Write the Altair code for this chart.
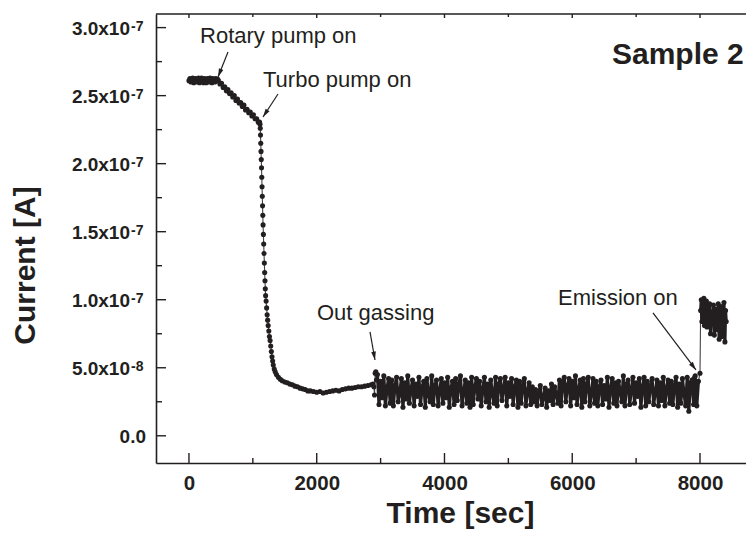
import altair as alt
import pandas as pd

FONT = "Liberation Sans"
INK = "#231f20"

# ---- data: time [s], current [nA] ----
flat_t = [0, 15, 30, 45, 60, 75, 90, 105, 120, 135, 150, 165, 180, 195, 210, 225,
          240, 255, 270, 285, 300, 315, 330, 345, 360, 375, 390, 405, 420, 435, 450]
flat_nA = [261, 262.5, 260, 261.5, 263, 259.5, 261, 262.5, 260, 261, 263, 259.5, 261, 263, 261, 259.5,
           262.5, 261, 259.5, 262.5, 261, 260, 263, 261, 259.5, 262.5, 261, 260, 262.5, 261, 262]

decl_t = [460, 485, 510, 535, 560, 585, 610, 635, 660, 685, 710, 735, 760, 785, 810,
          835, 860, 885, 910, 935, 960, 985, 1010, 1035, 1060, 1085, 1105]
decl_nA = [261, 258.5, 259, 256, 256.5, 253.5, 254.5, 251.5, 252, 249, 250, 246.5, 247.5,
           244.5, 245, 242, 243, 239.5, 240, 237.5, 238, 235, 236, 233, 233, 230.5, 230.5]

drop_t = [1112, 1116, 1120, 1124, 1128, 1132, 1136, 1140, 1144, 1148, 1152, 1156, 1160,
          1165, 1170, 1175, 1180, 1185, 1190, 1195, 1200, 1208, 1216, 1224, 1232, 1240,
          1250, 1260, 1270, 1280, 1290, 1300, 1310, 1320, 1335, 1350, 1370, 1400, 1430,
          1460, 1500, 1540, 1580, 1620, 1660, 1700, 1740, 1780, 1820, 1860, 1900, 1950,
          2000, 2050, 2100, 2150, 2200, 2250, 2300, 2350, 2400, 2450, 2500, 2550, 2600,
          2650, 2700, 2750, 2800, 2850, 2880, 2895, 2905, 2915, 2925, 2935]
drop_nA = [229, 226, 221, 215, 209, 203, 197, 190, 183, 176, 169, 162, 155,
           148, 141, 134, 127, 120, 114, 108, 103, 99, 94, 89, 85, 81,
           77, 73, 70, 66, 62, 58, 55, 52, 49, 47, 45, 43, 41.5,
           40.5, 39.5, 39, 38, 37.5, 36.5, 36, 35, 34.5, 34, 33, 33, 32.5,
           32, 32.5, 31.5, 32, 32.5, 33, 33.5, 33, 34, 34.5, 35, 35, 35.5,
           36, 36, 36.5, 37, 37.5, 38, 36, 30, 46, 47, 41]

noise_t = [2950, 2975, 3000, 3025, 3050, 3075, 3100, 3125, 3150, 3175,
           3200, 3225, 3250, 3275, 3300, 3325, 3350, 3375, 3400, 3425,
           3450, 3475, 3500, 3525, 3550, 3575, 3600, 3625, 3650, 3675,
           3700, 3725, 3750, 3775, 3800, 3825, 3850, 3875, 3900, 3925,
           3950, 3975, 4000, 4025, 4050, 4075, 4100, 4125, 4150, 4175,
           4200, 4225, 4250, 4275, 4300, 4325, 4350, 4375, 4400, 4425,
           4450, 4475, 4500, 4525, 4550, 4575, 4600, 4625, 4650, 4675,
           4700, 4725, 4750, 4775, 4800, 4825, 4850, 4875, 4900, 4925,
           4950, 4975, 5000, 5025, 5050, 5075, 5100, 5125, 5150, 5175,
           5200, 5225, 5250, 5275, 5300, 5325, 5350, 5375, 5400, 5425,
           5450, 5475, 5500, 5525, 5550, 5575, 5600, 5625, 5650, 5675,
           5700, 5725, 5750, 5775, 5800, 5825, 5850, 5875, 5900, 5925,
           5950, 5975, 6000, 6025, 6050, 6075, 6100, 6125, 6150, 6175,
           6200, 6225, 6250, 6275, 6300, 6325, 6350, 6375, 6400, 6425,
           6450, 6475, 6500, 6525, 6550, 6575, 6600, 6625, 6650, 6675,
           6700, 6725, 6750, 6775, 6800, 6825, 6850, 6875, 6900, 6925,
           6950, 6975, 7000, 7025, 7050, 7075, 7100, 7125, 7150, 7175,
           7200, 7225, 7250, 7275, 7300, 7325, 7350, 7375, 7400, 7425,
           7450, 7475, 7500, 7525, 7550, 7575, 7600, 7625, 7650, 7675,
           7700, 7725, 7750, 7775, 7800, 7825, 7850, 7875, 7900, 7925,
           7950, 7975]
noise_nA = [45, 23, 40, 28, 44, 22, 35, 42, 24, 41,
            22, 37, 43, 25, 31, 42, 21, 39, 27, 44,
            24, 34, 41, 22, 38, 29, 43, 23, 36, 40,
            21, 42, 30, 25, 44, 23, 37, 41, 22, 33,
            42, 24, 39, 28, 43, 21, 35, 40, 23, 42,
            26, 38, 44, 22, 32, 41, 24, 39, 21, 43,
            23, 36, 42, 27, 40, 22, 34, 43, 25, 38,
            21, 41, 31, 24, 43, 22, 38, 42, 26, 35,
            43, 22, 39, 29, 42, 23, 36, 41, 21, 40,
            24, 37, 42, 22, 33, 39, 23, 36, 25, 34,
            22, 31, 37, 23, 28, 35, 21, 33, 26, 38,
            23, 36, 30, 24, 41, 22, 39, 43, 25, 37,
            42, 22, 40, 28, 44, 23, 34, 41, 21, 42,
            25, 38, 43, 22, 31, 42, 24, 40, 22, 36,
            41, 23, 37, 27, 43, 21, 35, 42, 24, 39,
            22, 40, 33, 25, 44, 22, 38, 41, 23, 34,
            43, 24, 39, 29, 42, 21, 36, 43, 22, 40,
            25, 37, 42, 23, 32, 41, 22, 39, 26, 43,
            22, 35, 41, 24, 40, 23, 37, 43, 21, 38,
            24, 42, 31, 22, 43, 18, 39, 41, 23, 44,
            22, 40]

jump_t = [8000]
jump_nA = [46]

emis_t = [8010, 8020, 8030, 8040, 8050, 8060, 8070, 8080, 8090, 8100, 8110, 8120,
          8135, 8150, 8165, 8180, 8195, 8210, 8225, 8240, 8255, 8270, 8285, 8300,
          8315, 8330, 8345, 8360, 8375, 8390, 8400, 8410]
emis_nA = [92, 100, 84, 98, 88, 101, 81, 95, 90, 99, 80, 94,
           86, 97, 75, 91, 83, 96, 74, 88, 93, 78, 97, 71,
           90, 95, 73, 86, 98, 69, 92, 84]

# ---- axes / ticks ----
x_major = [0, 2000, 4000, 6000, 8000]
x_minor = [1000, 3000, 5000, 7000]
y_major = [5e-8, 1e-7, 1.5e-7, 2e-7, 2.5e-7, 3e-7]
y_mant = ["5.0x10", "1.0x10", "1.5x10", "2.0x10", "2.5x10", "3.0x10"]
y_exp = ["-8", "-7", "-7", "-7", "-7", "-7"]
y_zero = [0.0]
y_zero_label = ["0.0"]
y_minor = [2.5e-8, 7.5e-8, 1.25e-7, 1.75e-7, 2.25e-7, 2.75e-7]

# ---- annotations (time, current) ----
ann_text = ["Rotary pump on", "Turbo pump on", "Out gassing", "Emission on"]
ann_t = [173, 1159, 2004, 5777]
ann_I = [2.887e-7, 2.563e-7, 0.851e-7, 0.961e-7]

arr_t0 = [611, 1394, 2834, 7264]
arr_I0 = [2.821e-7, 2.512e-7, 0.763e-7, 0.903e-7]
arr_t1 = [455, 1159, 2912, 7937]
arr_I1 = [2.637e-7, 2.343e-7, 0.557e-7, 0.484e-7]
arr_angle = [201.8, 213.1, 169.9, 143.0]

W, H = 590, 449
xs = alt.Scale(domain=[-516, 8720], nice=False, zero=False)
ys = alt.Scale(domain=[-2e-8, 3.1e-7], nice=False, zero=False)

def frame(ts, vals):
    return pd.DataFrame({"t": ts, "I": [v * 1e-9 for v in vals]})

curve = frame(flat_t + decl_t + drop_t + noise_t + jump_t + emis_t,
              flat_nA + decl_nA + drop_nA + noise_nA + jump_nA + emis_nA)
curve["o"] = range(len(curve))
noise_df = frame(noise_t, noise_nA)
emis_df = frame(emis_t, emis_nA)

x_axis = alt.Axis(values=x_major, format="d", ticks=False, tickSize=0, grid=False,
                  domainColor=INK, domainWidth=1.6, labelFont=FONT, labelFontSize=20.5,
                  labelFontWeight="bold", labelColor=INK, labelPadding=10,
                  title="Time [sec]", titleFont=FONT, titleFontSize=30, titleFontWeight="bold",
                  titleColor=INK, titleX=304, titleY=59, titleAlign="center",
                  titleBaseline="alphabetic")
y_axis = alt.Axis(values=y_major, labels=False, ticks=False, tickSize=0, grid=False,
                  domainColor=INK, domainWidth=1.6,
                  title="Current [A]", titleFont=FONT, titleFontSize=30, titleFontWeight="bold",
                  titleColor=INK, titleX=-122, titleY=251, titleAngle=270, titleAlign="center",
                  titleBaseline="alphabetic")

base = alt.Chart(curve)
line = base.mark_line(color="#444444", strokeWidth=1.1).encode(
    x=alt.X("t:Q", scale=xs, axis=x_axis),
    y=alt.Y("I:Q", scale=ys, axis=y_axis),
    order="o:Q",
)
pts = base.mark_circle(color=INK, size=26, opacity=1).encode(
    x=alt.X("t:Q", scale=xs), y=alt.Y("I:Q", scale=ys))

noise_line = alt.Chart(noise_df).mark_line(color=INK, strokeWidth=3.2).encode(
    x=alt.X("t:Q", scale=xs), y=alt.Y("I:Q", scale=ys))
emis_line = alt.Chart(emis_df).mark_line(color=INK, strokeWidth=3.2).encode(
    x=alt.X("t:Q", scale=xs), y=alt.Y("I:Q", scale=ys))

one = pd.DataFrame({"k": [0]})
top_line = alt.Chart(one).mark_rule(color=INK, strokeWidth=1.6).encode(
    x=alt.value(0), x2=alt.value(W), y=alt.value(0))

xmaj = pd.DataFrame({"t": x_major})
xmin = pd.DataFrame({"t": x_minor})
ymaj = pd.DataFrame({"I": y_zero + y_major})
ymin = pd.DataFrame({"I": y_minor})

def xt(df, y0, y1):
    return alt.Chart(df).mark_rule(color=INK, strokeWidth=1.4).encode(
        x=alt.X("t:Q", scale=xs), y=alt.value(y0), y2=alt.value(y1))

def yt(df, length):
    return alt.Chart(df).mark_rule(color=INK, strokeWidth=1.4).encode(
        y=alt.Y("I:Q", scale=ys), x=alt.value(0), x2=alt.value(length))

ticks = [xt(xmaj, H, H - 10), xt(xmin, H, H - 5), xt(xmaj, 0, 4), xt(xmin, 0, 3),
         yt(ymaj, 10), yt(ymin, 6)]

# y tick labels with superscript exponents
ylab = pd.DataFrame({"I": y_major, "m": y_mant, "e": y_exp})
ylab_m = alt.Chart(ylab).mark_text(align="right", baseline="alphabetic", dy=7, font=FONT,
                                   fontSize=19, fontWeight="bold", color=INK).encode(
    y=alt.Y("I:Q", scale=ys), x=alt.value(-26), text="m:N")
ylab_e = alt.Chart(ylab).mark_text(align="left", baseline="alphabetic", dy=3, font=FONT,
                                   fontSize=14, fontWeight="bold", color=INK).encode(
    y=alt.Y("I:Q", scale=ys), x=alt.value(-25), text="e:N")
yzero = pd.DataFrame({"I": y_zero, "m": y_zero_label})
ylab_0 = alt.Chart(yzero).mark_text(align="right", baseline="alphabetic", dy=7, font=FONT,
                                    fontSize=19, fontWeight="bold", color=INK).encode(
    y=alt.Y("I:Q", scale=ys), x=alt.value(-10), text="m:N")

ann = pd.DataFrame({"text": ann_text, "t": ann_t, "I": ann_I})
ann_layer = alt.Chart(ann).mark_text(align="left", baseline="alphabetic", font=FONT,
                                     fontSize=22, color=INK).encode(
    x=alt.X("t:Q", scale=xs), y=alt.Y("I:Q", scale=ys), text="text:N")

sample = pd.DataFrame({"text": ["Sample 2"], "t": [6622], "I": [2.733e-7]})
sample_layer = alt.Chart(sample).mark_text(align="left", baseline="alphabetic", font=FONT,
                                           fontSize=30, fontWeight="bold", color=INK).encode(
    x=alt.X("t:Q", scale=xs), y=alt.Y("I:Q", scale=ys), text="text:N")

arr = pd.DataFrame({"t0": arr_t0, "I0": arr_I0, "t1": arr_t1, "I1": arr_I1, "a": arr_angle})
arr_lines = alt.Chart(arr).mark_rule(color=INK, strokeWidth=1.2).encode(
    x=alt.X("t0:Q", scale=xs), y=alt.Y("I0:Q", scale=ys), x2="t1:Q", y2="I1:Q")
arr_heads = alt.Chart(arr).mark_point(shape="M0,0L-0.45,1.6L0.45,1.6Z", filled=True,
                                      color=INK, size=110, opacity=1).encode(
    x=alt.X("t1:Q", scale=xs), y=alt.Y("I1:Q", scale=ys), angle=alt.Angle("a:Q", scale=None))

chart = alt.layer(line, noise_line, emis_line, pts, top_line, *ticks, ylab_m, ylab_e, ylab_0,
                  arr_lines, arr_heads, ann_layer, sample_layer).properties(
    width=W, height=H,
    autosize=alt.AutoSizeParams(type="none"),
    padding={"left": 148, "top": 6, "right": 0, "bottom": 66},
).configure_view(stroke=None)

chart.save("out.html", embed_options={"renderer": "svg", "actions": False})
